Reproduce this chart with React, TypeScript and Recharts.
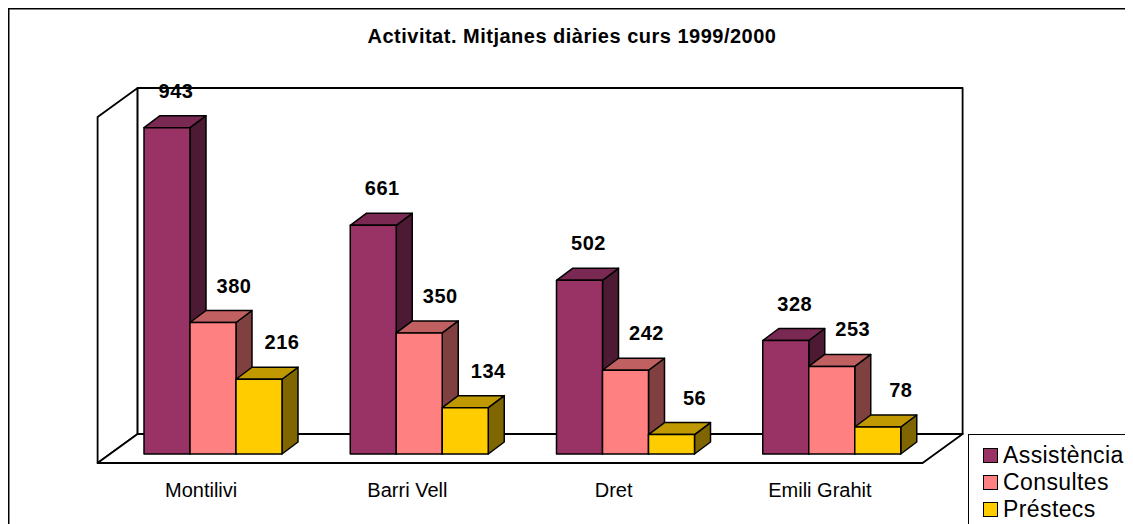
import { BarChart, Bar, XAxis, YAxis, Legend, LabelList } from 'recharts';

const categories = ['Montilivi', 'Barri Vell', 'Dret', 'Emili Grahit'];
const assistencia = [943, 661, 502, 328];
const consultes = [380, 350, 242, 253];
const prestecs = [216, 134, 56, 78];

const seriesNames = ['Assistència', 'Consultes', 'Préstecs'];

const rows = categories.map((name, i) => ({
  name,
  assistencia: assistencia[i],
  consultes: consultes[i],
  prestecs: prestecs[i],
}));

const FONT = '"Liberation Sans", Arial, sans-serif';
const W = 1125;
const H = 516;
const margin = { top: 100, right: 198, left: 102, bottom: 40 };

// 3d look
const DX = 16;
const DY = 12;

const series = [
  { key: 'assistencia', name: seriesNames[0], front: '#993366', top: '#7a2952', side: '#4d1a33', labelDx: 9 },
  { key: 'consultes', name: seriesNames[1], front: '#ff8080', top: '#c06060', side: '#804040', labelDx: 21 },
  { key: 'prestecs', name: seriesNames[2], front: '#ffcc00', top: '#c09900', side: '#806600', labelDx: 23 },
];

const makeShape = (s: any) => (props: any) => {
  const { x, y, width, height } = props;
  if (width == null || height == null) return null;
  const r = x + width;
  const b = y + height;
  return (
    <g stroke="#000" strokeWidth={1.5} strokeLinejoin="round">
      <polygon points={`${r},${y} ${r + DX},${y - DY} ${r + DX},${b - DY} ${r},${b}`} fill={s.side} />
      <polygon points={`${x},${y} ${x + DX},${y - DY} ${r + DX},${y - DY} ${r},${y}`} fill={s.top} />
      <rect x={x} y={y} width={width} height={height} fill={s.front} />
    </g>
  );
};

const makeLabel = (s: any) => (props: any) => {
  const { x, y, width, value } = props;
  return (
    <text
      x={x + width / 2 + s.labelDx}
      y={y - 30}
      textAnchor="middle"
      fontFamily={FONT}
      fontWeight="bold"
      fontSize={20}
      letterSpacing={0.5}
      fill="#000"
    >
      {value}
    </text>
  );
};

const CatTick = (props: any) => {
  const { x, y, payload } = props;
  return (
    <text x={x - 12} y={y} dy={43} textAnchor="middle" fontFamily={FONT} fontSize={20} fill="#000">
      {payload.value}
    </text>
  );
};

const LegendBox = () => (
  <div
    style={{
      width: 170,
      height: 100,
      border: '1.5px solid #000',
      background: '#fff',
      padding: '7px 0 0 14px',
      boxSizing: 'border-box',
      fontFamily: FONT,
      fontSize: 23,
      letterSpacing: 0.4,
    }}
  >
    {series.map((s) => (
      <div key={s.key} style={{ display: 'flex', alignItems: 'center', height: 27, whiteSpace: 'nowrap' }}>
        <span
          style={{
            display: 'inline-block',
            width: 13,
            height: 13,
            border: '1.5px solid #000',
            background: s.front,
            marginRight: 5,
          }}
        />
        <span>{s.name}</span>
      </div>
    ))}
  </div>
);

// frame in container coords, derived from plot area
const plotLeft = margin.left;
const plotRight = W - margin.right;
const plotBottom = H - margin.bottom - 30;
const plotTop = margin.top;
const WX = 40;
const WY = 29;
const fL = plotLeft - 12.4;
const fR = plotRight - 12.4;
const fB = plotBottom + 9;
const fT = plotTop + 9;

export default function App() {
  return (
    <div style={{ position: 'relative', width: W, height: H, overflow: 'hidden', background: '#fff' }}>
      <svg width={W} height={H} style={{ position: 'absolute', left: 0, top: 0 }}>
        <line x1={0.75} y1={0} x2={0.75} y2={H} stroke="#000" strokeWidth={1.5} />
        <line x1={0} y1={0.75} x2={W} y2={0.75} stroke="#000" strokeWidth={1.5} />
        <g stroke="#000" strokeWidth={1.8} fill="#fff" strokeLinejoin="round">
          <polygon points={`${fL},${fT} ${fL + WX},${fT - WY} ${fL + WX},${fB - WY} ${fL},${fB}`} />
          <rect x={fL + WX} y={fT - WY} width={fR - fL} height={fB - fT} />
          <polygon points={`${fL},${fB} ${fL + WX},${fB - WY} ${fR + WX},${fB - WY} ${fR},${fB}`} />
        </g>
        <text
          x={564}
          y={35}
          textAnchor="middle"
          fontFamily={FONT}
          fontWeight="bold"
          fontSize={20}
          letterSpacing={0.5}
          fill="#000"
        >
          Activitat. Mitjanes diàries curs 1999/2000
        </text>
      </svg>
      <div style={{ position: 'absolute', left: 0, top: 0 }}>
        <BarChart width={W} height={H} data={rows} margin={margin} barGap={0} barSize={46}>
          <XAxis
            dataKey="name"
            axisLine={false}
            tickLine={false}
            tickSize={0}
            tickMargin={0}
            height={30}
            interval={0}
            tick={<CatTick />}
          />
          <YAxis hide domain={[0, 1000]} />
          <Legend
            layout="vertical"
            align="center"
            verticalAlign="middle"
            wrapperStyle={{ left: 960, top: 426, width: 170 }}
            content={() => <LegendBox />}
          />
          {series.map((s) => (
            <Bar
              key={s.key}
              dataKey={s.key}
              name={s.name}
              fill={s.front}
              shape={makeShape(s)}
              isAnimationActive={false}
            >
              <LabelList dataKey={s.key} content={makeLabel(s)} />
            </Bar>
          ))}
        </BarChart>
      </div>
    </div>
  );
}
